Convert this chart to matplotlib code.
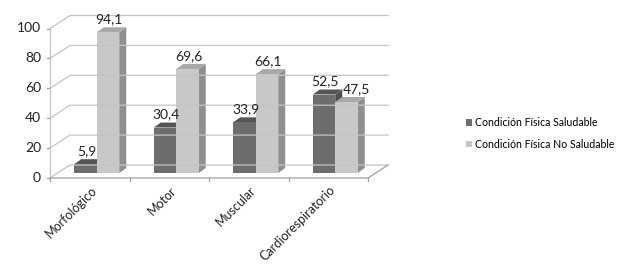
import matplotlib
matplotlib.use("Agg")
import matplotlib.pyplot as plt
from matplotlib.patches import Polygon, Patch

categories = ["Morfológico", "Motor", "Muscular", "Cardiorespiratorio"]
saludable = [5.9, 30.4, 33.9, 52.5]
no_saludable = [94.1, 69.6, 66.1, 47.5]
series_names = ["Condición Física Saludable", "Condición Física No Saludable"]
yticks = [0, 20, 40, 60, 80, 100]

plt.rcParams["font.family"] = ["Lato", "DejaVu Sans"]

W, H = 624, 264
fig = plt.figure(figsize=(W / 100, H / 100), dpi=100)
# front plane: x 50..368 px, y 0 at 178 px, 100 at 28.5 px
ax = fig.add_axes([50 / W, (H - 178) / H, 318 / W, 149.5 / H])
ax.set_xlim(0, 4)
ax.set_ylim(0, 100)
ax.axis("off")

px = 4 / 318          # one pixel in x data units
py = 100 / 149.5      # one pixel in y data units
WX, WY = 20 * px, 13 * py   # full depth of the box
BX, BY = 7 * px, 5 * py     # offset of the bar front plane
DX, DY = 7 * px, 5 * py     # bar depth
bw = 22.5 * px

grid_c = "#c4c4c4"
# walls / gridlines
for t in yticks:
    ax.plot([0, WX, 4 + WX], [t, t + WY, t + WY], color=grid_c, lw=0.9, clip_on=False)
    ax.plot([-3 * px, 0], [t, t], color="#a0a0a0", lw=0.9, clip_on=False)
ax.plot([0, 0], [0, 100], color=grid_c, lw=0.9, clip_on=False)
# floor
ax.plot([0, 4, 4 + WX], [0, 0, WY], color="#a0a0a0", lw=0.9, clip_on=False)
for i in range(5):
    ax.plot([i, i], [0, -3 * py], color="#a0a0a0", lw=0.9, clip_on=False)

colors = [("#6d6d6d", "#555555", "#4f4f4f"),   # front, top, side
          ("#c8c8c8", "#a9a9a9", "#8f8f8f")]

for i in range(len(categories)):
    for s, vals in enumerate([saludable, no_saludable]):
        v = vals[i]
        x0 = i + 0.5 + BX - bw + s * bw
        front, top, side = colors[s]
        y0, y1 = BY, BY + v
        ax.add_patch(Polygon([(x0 + bw, y0), (x0 + bw + DX, y0 + DY),
                              (x0 + bw + DX, y1 + DY), (x0 + bw, y1)],
                             closed=True, fc=side, ec="none", clip_on=False))
        ax.add_patch(Polygon([(x0, y1), (x0 + bw, y1), (x0 + bw + DX, y1 + DY),
                              (x0 + DX, y1 + DY)],
                             closed=True, fc=top, ec="none", clip_on=False))
        ax.bar(x0, v, width=bw, bottom=BY, align="edge", color=front,
               edgecolor="none", clip_on=False)
        lx = x0 + bw / 2 + 1 * px
        # push the second label aside when it would collide with the first
        if s == 1 and abs(v - saludable[i]) < 12:
            lx += 9 * px
        ax.text(lx, y1 + DY + 4 * py, f"{v:.1f}".replace(".", ","),
                ha="center", va="baseline", fontsize=10, color="#222222")

for t in yticks:
    ax.text(-9 * px, t, str(t), ha="right", va="center", fontsize=10, color="#222222")

for i, c in enumerate(categories):
    ax.text(i + 0.5 + 1 * px, -6 * py, c, ha="right", va="top", rotation=45,
            rotation_mode="anchor", fontsize=9, color="#222222")

handles = [Patch(fc=colors[0][0]), Patch(fc=colors[1][0])]
fig.legend(handles, series_names, loc="upper left", bbox_to_anchor=(463 / W, 1 - 114 / H),
           frameon=False, fontsize=7.6, handlelength=0.55, handleheight=0.55,
           handletextpad=0.3, labelspacing=1.0, borderaxespad=0, borderpad=0.3)

fig.savefig("out.png", dpi=100)
